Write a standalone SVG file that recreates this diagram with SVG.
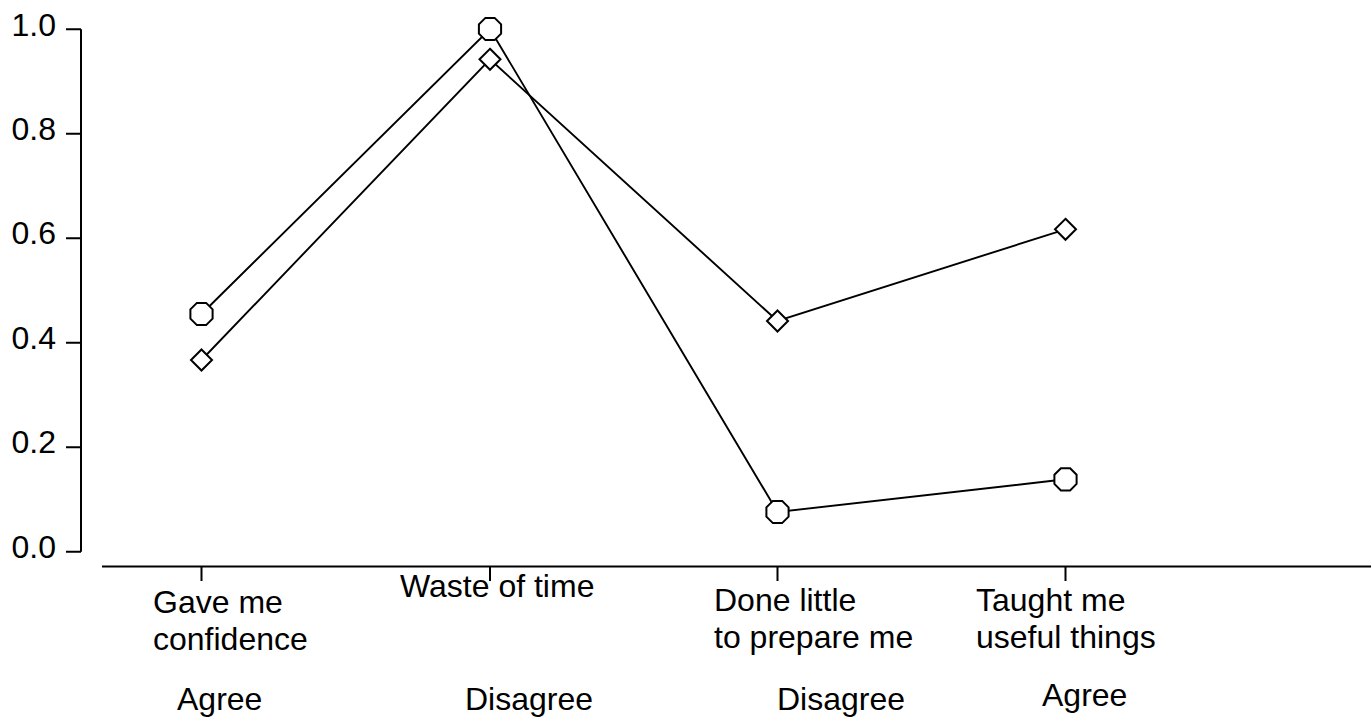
<svg xmlns="http://www.w3.org/2000/svg" width="1371" height="723" viewBox="0 0 1371 723">
<style>
text{font-family:"Liberation Sans",Arial,sans-serif;font-size:32px;fill:#000}
.ax{stroke:#000;stroke-width:2;fill:none}
.ln{stroke:#000;stroke-width:1.9;fill:none}
.mk{stroke:#000;stroke-width:2;fill:#fff}
.yl{text-anchor:end}
</style>
<defs>
<polygon id="oct" points="4.6,-11.1 11.1,-4.6 11.1,4.6 4.6,11.1 -4.6,11.1 -11.1,4.6 -11.1,-4.6 -4.6,-11.1"/>
<polygon id="dia" points="0,-10.5 10.5,0 0,10.5 -10.5,0"/>
</defs>
<g id="y-axis">
<path class="ax" d="M81,29.3V551.7M66,29.3H81M66,133.8H81M66,238.3H81M66,342.7H81M66,447.2H81M66,551.7H81"/>
<text class="yl" x="56" y="35.5">1.0</text>
<text class="yl" x="56" y="139.8">0.8</text>
<text class="yl" x="56" y="244.3">0.6</text>
<text class="yl" x="56" y="348.7">0.4</text>
<text class="yl" x="56" y="453.2">0.2</text>
<text class="yl" x="56" y="557.5">0.0</text>
</g>
<g id="x-axis">
<path class="ax" d="M102,566.5H1371M201.5,566.5V581M490,566.5V581M777.5,566.5V581M1065.5,566.5V581"/>
</g>
<g id="connectors">
<polyline class="ln" points="201.5,314 490,29 777.5,512 1065.5,479.3"/>
<polyline class="ln" points="201.5,360 490,59.3 777.5,321 1065.5,229.3"/>
</g>
<g id="series-circle">
<use href="#oct" class="mk" x="201.5" y="314"/>
<use href="#oct" class="mk" x="490" y="29"/>
<use href="#oct" class="mk" x="777.5" y="512"/>
<use href="#oct" class="mk" x="1065.5" y="479.3"/>
</g>
<g id="series-diamond">
<use href="#dia" class="mk" x="201.5" y="360"/>
<use href="#dia" class="mk" x="490" y="59.3"/>
<use href="#dia" class="mk" x="777.5" y="321"/>
<use href="#dia" class="mk" x="1065.5" y="229.3"/>
</g>
<g id="label-gave">
<text x="153" y="613">Gave me</text>
<text x="153" y="650">confidence</text>
<text x="177" y="710">Agree</text>
</g>
<g id="label-waste">
<text x="400" y="597">Waste of time</text>
<text x="465" y="710">Disagree</text>
</g>
<g id="label-done">
<text x="714" y="611">Done little</text>
<text x="714" y="648">to prepare me</text>
<text x="777" y="710">Disagree</text>
</g>
<g id="label-taught">
<text x="976" y="611">Taught me</text>
<text x="976" y="648">useful things</text>
<text x="1042" y="706">Agree</text>
</g>
</svg>
